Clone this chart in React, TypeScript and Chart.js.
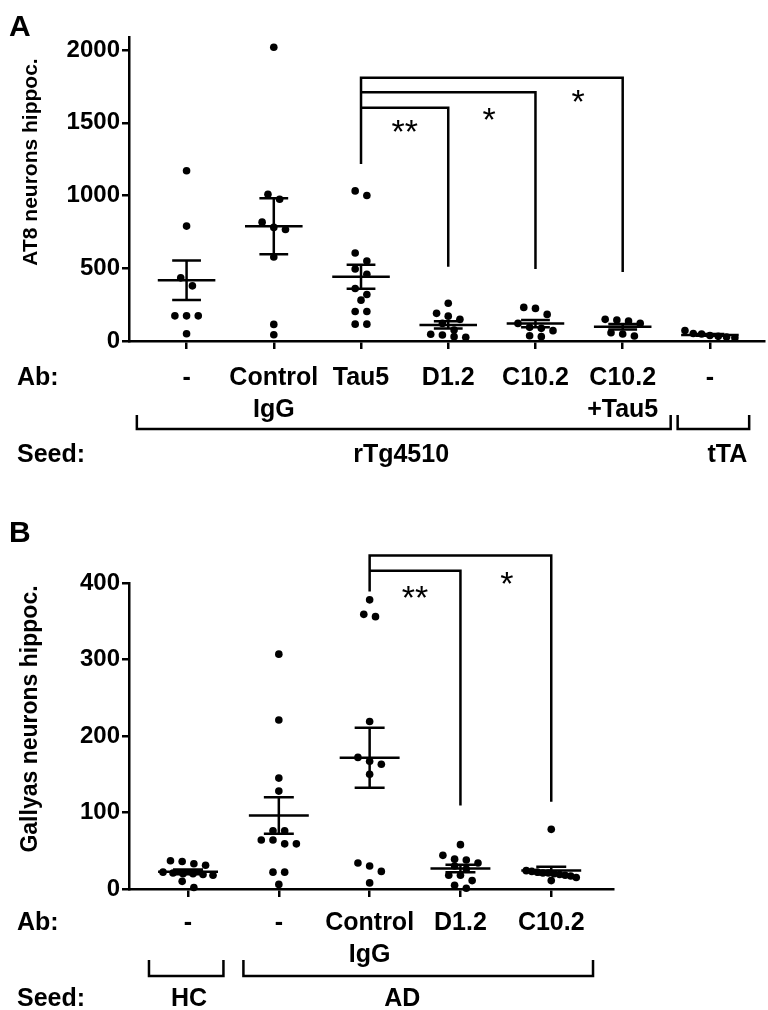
import React, { useEffect, useRef } from 'react';
import { Chart, registerables } from 'chart.js';

Chart.register(...registerables);

const FONT = '"Liberation Sans", Arial, Helvetica, sans-serif';

// ---------------- Panel A data ----------------
const aAbLabels: string[][] = [['-'], ['Control', 'IgG'], ['Tau5'], ['D1.2'], ['C10.2'], ['C10.2', '+Tau5'], ['-']];
const aNoAb = [1170, 790, 434, 379, 173, 173, 173, 50];
const aControlIgG = [2020, 1009, 975, 817, 781, 767, 577, 114, 43];
const aTau5 = [1032, 1000, 605, 550, 495, 459, 361, 320, 281, 203, 203, 116, 116];
const aD12 = [260, 190, 171, 149, 121, 75, 46, 41, 30, 25];
const aC102 = [231, 224, 183, 121, 94, 87, 71, 36, 30];
const aC102Tau5 = [149, 144, 137, 121, 57, 48, 34];
const aTTA = [72, 52, 48, 38, 32, 28, 22];
const aYTicks = [0, 500, 1000, 1500, 2000];
const aSeedNames = ['rTg4510', 'tTA'];
const aSeedSpans: [number, number][] = [[-0.57, 5.55], [5.63, 6.45]];
const aSeedLabelX = [2.46, 6.2];
const aSigFrom = 2;
const aSigTo = [3, 4, 5];
const aSigTop = [1604, 1710, 1810];
const aSigStart = 1217;
const aSigEnd = [511, 495, 474];
const aStars = ['**', '*', '*'];
const aStarX = [2.5, 3.47, 4.49];
const aStarY = [1497, 1576, 1703];

// ---------------- Panel B data ----------------
const bAbLabels: string[][] = [['-'], ['-'], ['Control', 'IgG'], ['D1.2'], ['C10.2']];
const bHC = [37, 36, 33, 31, 22, 21, 20, 20, 19, 18, 10, 2];
const bAD = [307, 221, 145, 128, 76, 76, 64, 64, 59, 59, 22, 22, 6];
const bControlIgG = [378, 359, 356, 219, 172, 167, 163, 150, 34, 30, 23, 8];
const bD12 = [58, 44, 39, 38, 34, 30, 26, 18, 18, 11, 5, 1];
const bC102 = [78, 24, 23, 22, 21, 21, 20, 19, 18, 17, 15, 11];
const bYTicks = [0, 100, 200, 300, 400];
const bSeedNames = ['HC', 'AD'];
const bSeedSpans: [number, number][] = [[-0.43, 0.39], [0.61, 4.46]];
const bSeedLabelX = [0.01, 2.36];
const bSigFrom = 2;
const bSigTo = [3, 4];
const bSigTop = [416, 436];
const bSigStart = 389;
const bSigEnd = [109, 114];
const bStars = ['**', '*'];
const bStarX = [2.5, 3.51];
const bStarY = [392, 410];

// ---------------- layout constants ----------------
const Y_AXIS_W = 129;
const LW = 2.5;
const MEAN_HW = 0.33;
const CAP_HW = 0.165;
const ROW_PX = 9;
const STEP_PX = 11.7;
const MAX_HALF_PX = 25;

type Rows = { ab: number; second: number; brTop: number; brLine: number; seed: number };

type PanelProps = {
  top: number;
  canvasH: number;
  padTop: number;
  padRight: number;
  xAxisH: number;
  yMax: number;
  yTicks: number[];
  xMin: number;
  xMax: number;
  groups: number[][];
  labels: string[][];
  letter: string;
  letterBase: number;
  yTitle: string;
  yTitleY: number;
  yTitleSize: number;
  sigFrom: number;
  sigTo: number[];
  sigTop: number[];
  sigStart: number;
  sigEnd: number[];
  stars: string[];
  starX: number[];
  starY: number[];
  seedNames: string[];
  seedSpans: [number, number][];
  seedLabelX: number[];
  rows: Rows;
};

function swarm(values: number[], center: number, pxX: number, pxY: number) {
  const sorted = [...values].sort((a, b) => b - a);
  const out: { x: number; y: number }[] = [];
  let i = 0;
  while (i < sorted.length) {
    let j = i + 1;
    while (j < sorted.length && (sorted[i] - sorted[j]) * pxY < ROW_PX) j++;
    const row = sorted.slice(i, j);
    const n = row.length;
    const step = n > 1 ? Math.min(STEP_PX, (2 * MAX_HALF_PX) / (n - 1)) : 0;
    row.forEach((v, k) => out.push({ x: center + ((k - (n - 1) / 2) * step) / pxX, y: v }));
    i = j;
  }
  return out;
}

function stats(v: number[]) {
  const n = v.length;
  const m = v.reduce((s, x) => s + x, 0) / n;
  const sd = Math.sqrt(v.reduce((s, x) => s + (x - m) * (x - m), 0) / (n - 1));
  return { m, sem: sd / Math.sqrt(n) };
}

function Panel(p: PanelProps) {
  const ref = useRef<HTMLCanvasElement>(null);
  useEffect(() => {
    const c = ref.current;
    if (!c) return;
    const plotW = 768 - p.padRight - Y_AXIS_W;
    const plotH = p.canvasH - p.padTop - p.xAxisH;
    const pxX = plotW / (p.xMax - p.xMin);
    const pxY = plotH / p.yMax;

    const points = p.groups.flatMap((g, i) => swarm(g, i, pxX, pxY));

    const bars: any[] = [];
    p.groups.forEach((g, i) => {
      const { m, sem } = stats(g);
      bars.push({ x: i - MEAN_HW, y: m }, { x: i + MEAN_HW, y: m }, { x: i, y: null });
      bars.push({ x: i, y: m - sem }, { x: i, y: m + sem }, { x: i, y: null });
      bars.push({ x: i - CAP_HW, y: m + sem }, { x: i + CAP_HW, y: m + sem }, { x: i, y: null });
      bars.push({ x: i - CAP_HW, y: m - sem }, { x: i + CAP_HW, y: m - sem }, { x: i, y: null });
    });

    const sig: any[] = [];
    p.sigTo.forEach((to, k) => {
      sig.push(
        { x: p.sigFrom, y: p.sigStart },
        { x: p.sigFrom, y: p.sigTop[k] },
        { x: to, y: p.sigTop[k] },
        { x: to, y: p.sigEnd[k] },
        { x: to, y: null }
      );
    });

    const lineDs = (data: any[]) => ({
      type: 'line' as const,
      data,
      borderColor: '#000',
      borderWidth: LW,
      pointRadius: 0,
      fill: false,
      tension: 0,
      spanGaps: false,
      clip: false as any,
      borderJoinStyle: 'miter' as const,
    });

    const annot = {
      id: 'annot',
      afterDraw(chart: any) {
        const ctx: CanvasRenderingContext2D = chart.ctx;
        const xs = chart.scales.x;
        const ys = chart.scales.y;
        const bottom = chart.chartArea.bottom;
        ctx.save();
        ctx.fillStyle = '#000';
        ctx.strokeStyle = '#000';
        ctx.lineWidth = LW;

        // panel letter
        ctx.font = `bold 30px ${FONT}`;
        ctx.textAlign = 'left';
        ctx.textBaseline = 'alphabetic';
        ctx.fillText(p.letter, 9, p.letterBase);

        // y title
        ctx.save();
        ctx.translate(31, p.yTitleY);
        ctx.rotate(-Math.PI / 2);
        ctx.font = `bold ${p.yTitleSize}px ${FONT}`;
        ctx.textAlign = 'center';
        ctx.textBaseline = 'middle';
        ctx.fillText(p.yTitle, 0, 0);
        ctx.restore();

        // significance stars
        ctx.font = `34px ${FONT}`;
        ctx.textAlign = 'center';
        ctx.textBaseline = 'alphabetic';
        p.stars.forEach((s, k) => {
          ctx.fillText(s, xs.getPixelForValue(p.starX[k]), ys.getPixelForValue(p.starY[k]) + 34 * 0.58);
        });

        // Ab row
        ctx.font = `bold 25px ${FONT}`;
        ctx.textAlign = 'left';
        ctx.fillText('Ab:', 17, bottom + p.rows.ab);
        ctx.fillText('Seed:', 17, bottom + p.rows.seed);
        ctx.textAlign = 'center';
        p.labels.forEach((lab, i) => {
          const x = xs.getPixelForValue(i);
          ctx.fillText(lab[0], x, bottom + p.rows.ab);
          if (lab[1]) ctx.fillText(lab[1], x, bottom + p.rows.second);
        });

        // seed brackets
        p.seedSpans.forEach(([a, b]) => {
          const x0 = xs.getPixelForValue(a);
          const x1 = xs.getPixelForValue(b);
          ctx.beginPath();
          ctx.moveTo(x0, bottom + p.rows.brTop);
          ctx.lineTo(x0, bottom + p.rows.brLine);
          ctx.lineTo(x1, bottom + p.rows.brLine);
          ctx.lineTo(x1, bottom + p.rows.brTop);
          ctx.stroke();
        });
        p.seedNames.forEach((s, k) => {
          ctx.fillText(s, xs.getPixelForValue(p.seedLabelX[k]), bottom + p.rows.seed);
        });
        ctx.restore();
      },
    };

    const chart = new Chart(c, {
      type: 'scatter',
      data: {
        datasets: [
          {
            type: 'scatter',
            data: points,
            pointRadius: 3.8,
            pointBorderWidth: 0,
            backgroundColor: '#000',
            borderColor: '#000',
            clip: false as any,
          } as any,
          lineDs(bars),
          lineDs(sig),
        ],
      },
      options: {
        responsive: false,
        animation: false,
        devicePixelRatio: 1,
        events: [],
        layout: { padding: { top: p.padTop, right: p.padRight, left: 0, bottom: 0 } },
        plugins: { legend: { display: false }, tooltip: { enabled: false } },
        scales: {
          x: {
            type: 'linear',
            min: p.xMin,
            max: p.xMax,
            afterBuildTicks: (s: any) => {
              s.ticks = p.labels.map((_, i) => ({ value: i }));
            },
            afterFit: (s: any) => {
              s.height = p.xAxisH;
            },
            ticks: { display: false },
            grid: { drawOnChartArea: false, drawTicks: true, tickLength: 8, color: '#000', lineWidth: LW },
            border: { display: true, color: '#000', width: LW },
          },
          y: {
            type: 'linear',
            min: 0,
            max: p.yMax,
            afterBuildTicks: (s: any) => {
              s.ticks = p.yTicks.map((v) => ({ value: v }));
            },
            afterFit: (s: any) => {
              s.width = Y_AXIS_W;
            },
            ticks: {
              color: '#000',
              font: { family: FONT, size: 24, weight: 'bold' },
              padding: 2,
              callback: (v: any) => String(v),
            },
            grid: { drawOnChartArea: false, drawTicks: true, tickLength: 7, color: '#000', lineWidth: LW },
            border: { display: true, color: '#000', width: LW },
          },
        },
      } as any,
      plugins: [annot],
    });
    return () => chart.destroy();
  }, []);
  return (
    <canvas
      ref={ref}
      width={768}
      height={p.canvasH}
      style={{ position: 'absolute', left: 0, top: p.top, display: 'block', width: 768, height: p.canvasH }}
    />
  );
}

export default function App() {
  return (
    <div style={{ position: 'absolute', left: 0, top: 0, width: 768, height: 1010, background: '#fff', overflow: 'hidden' }}>
      <Panel
        top={0}
        canvasH={480}
        padTop={37}
        padRight={3}
        xAxisH={139}
        yMax={2090}
        yTicks={aYTicks}
        xMin={-0.66}
        xMax={6.62}
        groups={[aNoAb, aControlIgG, aTau5, aD12, aC102, aC102Tau5, aTTA]}
        labels={aAbLabels}
        letter="A"
        letterBase={36}
        yTitle="AT8 neurons hippoc."
        yTitleY={162}
        yTitleSize={21}
        sigFrom={aSigFrom}
        sigTo={aSigTo}
        sigTop={aSigTop}
        sigStart={aSigStart}
        sigEnd={aSigEnd}
        stars={aStars}
        starX={aStarX}
        starY={aStarY}
        seedNames={aSeedNames}
        seedSpans={aSeedSpans}
        seedLabelX={aSeedLabelX}
        rows={{ ab: 44, second: 76, brTop: 74, brLine: 88, seed: 121 }}
      />
      <Panel
        top={480}
        canvasH={530}
        padTop={103}
        padRight={155}
        xAxisH={121}
        yMax={400}
        yTicks={bYTicks}
        xMin={-0.65}
        xMax={4.68}
        groups={[bHC, bAD, bControlIgG, bD12, bC102]}
        labels={bAbLabels}
        letter="B"
        letterBase={62}
        yTitle="Gallyas neurons hippoc."
        yTitleY={239}
        yTitleSize={23}
        sigFrom={bSigFrom}
        sigTo={bSigTo}
        sigTop={bSigTop}
        sigStart={bSigStart}
        sigEnd={bSigEnd}
        stars={bStars}
        starX={bStarX}
        starY={bStarY}
        seedNames={bSeedNames}
        seedSpans={bSeedSpans}
        seedLabelX={bSeedLabelX}
        rows={{ ab: 41, second: 73, brTop: 71, brLine: 87, seed: 117 }}
      />
    </div>
  );
}
